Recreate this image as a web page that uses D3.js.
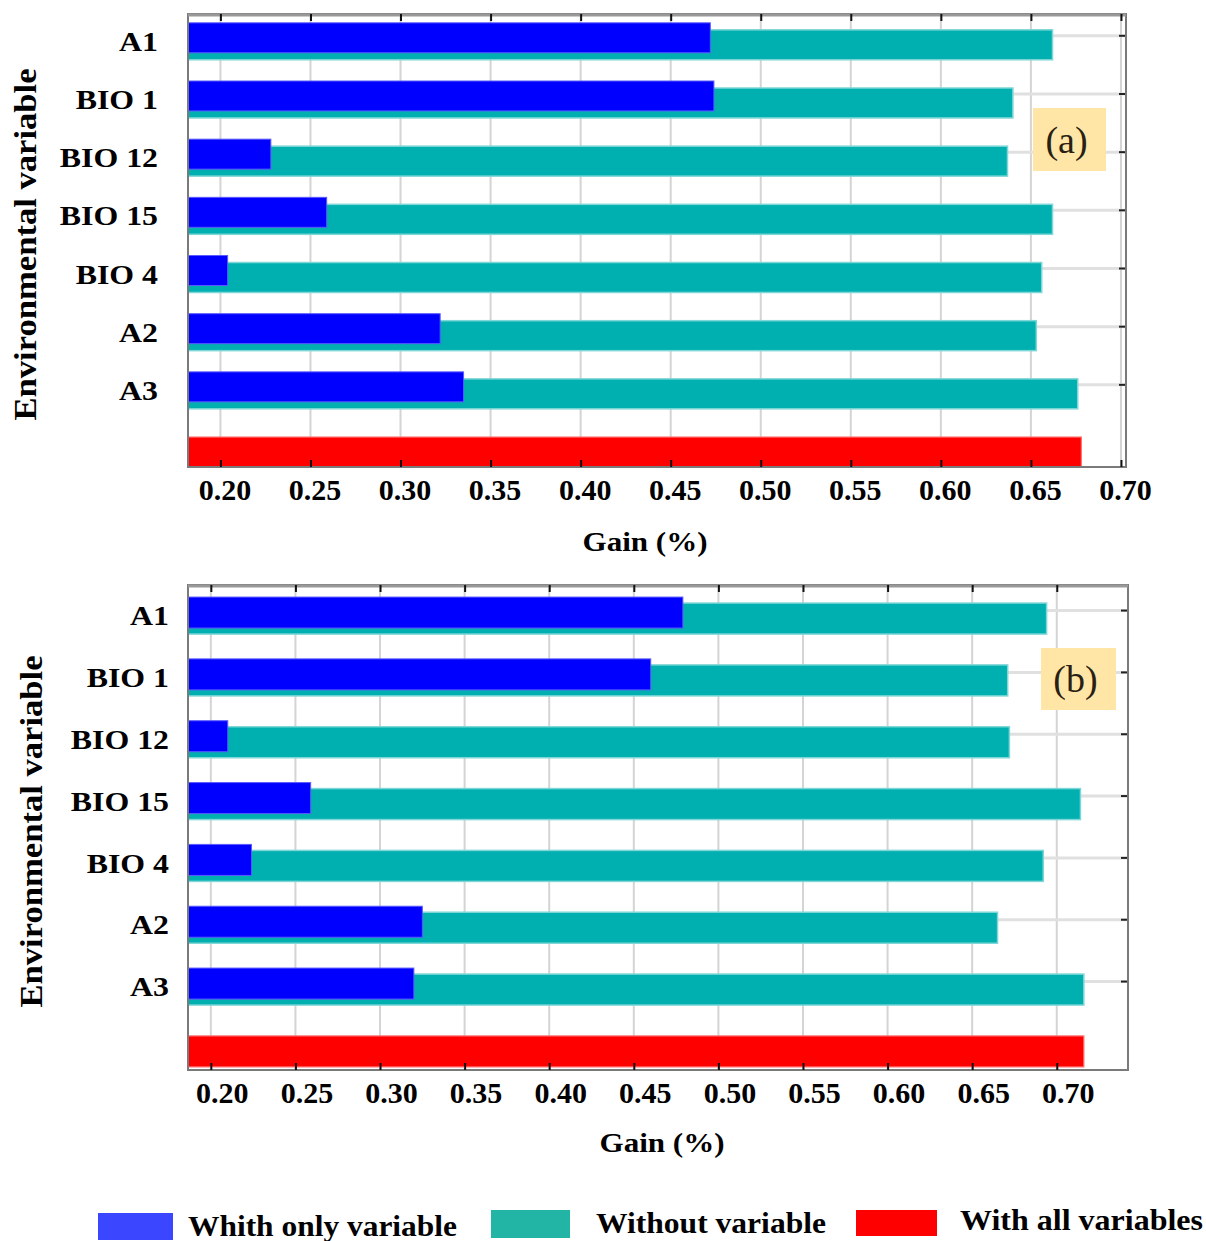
<!DOCTYPE html>
<html>
<head>
<meta charset="utf-8">
<script src="https://cdn.jsdelivr.net/npm/d3@7"></script>
<style>
  html, body { margin: 0; padding: 0; background: #fff; }
  svg { display: block; }
</style>
</head>
<body>
<svg id="chart" width="1206" height="1241"></svg>
<script>
// ---------------- DATA ----------------
const categories = ["A1", "BIO 1", "BIO 12", "BIO 15", "BIO 4", "A2", "A3"];
const allKey = "ALL";
const tickValues = [0.20, 0.25, 0.30, 0.35, 0.40, 0.45, 0.50, 0.55, 0.60, 0.65, 0.70];
const tickLabels = ["0.20", "0.25", "0.30", "0.35", "0.40", "0.45", "0.50", "0.55", "0.60", "0.65", "0.70"];

// panel (a)
const onlyVarA    = [0.472, 0.474, 0.228, 0.259, 0.204, 0.322, 0.335];
const withoutVarA = [0.662, 0.640, 0.637, 0.662, 0.656, 0.653, 0.676];
const allVarsA    = 0.678;

// panel (b)
const onlyVarB    = [0.479, 0.460, 0.210, 0.259, 0.224, 0.325, 0.320];
const withoutVarB = [0.694, 0.671, 0.672, 0.714, 0.692, 0.665, 0.716];
const allVarsB    = 0.716;

const legendLabels = ["Whith only variable", "Without variable", "With all variables"];
const legendColors = ["#3a46ff", "#22b5a5", "#ff0000"];

// ---------------- DRAW ----------------
const svg = d3.select("#chart");
const serif = "'Liberation Serif', 'Times New Roman', serif";

function drawPanel(cfg) {
  const { left, right, top, bottom, xDomain, only, without, all,
          align, pOuter, pInner, blueOff, labelDx, yLabelX, tag, tagBox,
          yTitleX, gainY } = cfg;
  const g = svg.append("g");

  const x = d3.scaleLinear().domain(xDomain).range([left, right]);
  const y = d3.scaleBand().domain([...categories, allKey])
    .range([top, bottom]).paddingInner(pInner).paddingOuter(pOuter).align(align);
  const bw = y.bandwidth();

  // vertical gridlines
  g.append("g").selectAll("line").data(tickValues).join("line")
    .attr("x1", d => x(d)).attr("x2", d => x(d))
    .attr("y1", top).attr("y2", bottom)
    .attr("stroke", "#d4d4d4").attr("stroke-width", 2);

  // horizontal gridlines
  g.append("g").selectAll("line").data(categories).join("line")
    .attr("x1", left).attr("x2", right)
    .attr("y1", d => y(d) + blueOff + bw / 2 - 2).attr("y2", d => y(d) + blueOff + bw / 2 - 2)
    .attr("stroke", "#e0e0e0").attr("stroke-width", 3);

  // right edge ticks
  g.append("g").selectAll("line").data(categories).join("line")
    .attr("x1", right - 7).attr("x2", right)
    .attr("y1", d => y(d) + blueOff + bw / 2 - 2).attr("y2", d => y(d) + blueOff + bw / 2 - 2)
    .attr("stroke", "#222").attr("stroke-width", 2);

  // teal (without variable) bars
  g.append("g").selectAll("rect").data(categories).join("rect")
    .attr("x", x(xDomain[0]))
    .attr("y", d => y(d))
    .attr("width", (d, i) => x(without[i]) - x(xDomain[0]))
    .attr("height", bw)
    .attr("fill", "#00b0b0")
    .attr("stroke", "#7ed6d6").attr("stroke-width", 1.5);

  // blue (with only variable) bars
  g.append("g").selectAll("rect").data(categories).join("rect")
    .attr("x", x(xDomain[0]))
    .attr("y", d => y(d) + blueOff)
    .attr("width", (d, i) => x(only[i]) - x(xDomain[0]))
    .attr("height", bw)
    .attr("fill", "#0000ff")
    .attr("stroke", "#5a5aff").attr("stroke-width", 1);

  // red (with all variables) bar
  g.append("rect")
    .attr("x", x(xDomain[0])).attr("y", y(allKey))
    .attr("width", x(all) - x(xDomain[0])).attr("height", bw)
    .attr("fill", "#ff0000").attr("stroke", "#ff7070").attr("stroke-width", 1.2);

  // frame
  g.append("rect").attr("x", left).attr("y", top)
    .attr("width", right - left).attr("height", bottom - top)
    .attr("fill", "none").attr("stroke", "#7a7a7a").attr("stroke-width", 2);
  g.append("line").attr("x1", left).attr("x2", right).attr("y1", top + 1).attr("y2", top + 1)
    .attr("stroke", "#999").attr("stroke-width", 3);

  // top axis (ticks only)
  const axTop = g.append("g").attr("transform", `translate(0,${top})`)
    .call(d3.axisTop(x).tickValues(tickValues).tickSize(-7).tickFormat(""));
  axTop.select(".domain").remove();
  axTop.selectAll(".tick line").attr("stroke", "#111").attr("stroke-width", 2);

  // bottom axis
  const axBot = g.append("g").attr("transform", `translate(0,${bottom})`)
    .call(d3.axisBottom(x).tickValues(tickValues).tickSize(-7).tickPadding(12)
      .tickFormat((d, i) => tickLabels[i]));
  axBot.select(".domain").remove();
  axBot.selectAll(".tick line").attr("stroke", "#111").attr("stroke-width", 2);
  axBot.selectAll(".tick text")
    .attr("dx", labelDx)
    .style("font-family", serif).style("font-weight", "bold")
    .style("font-size", "30px").attr("fill", "#000");

  // y-axis labels
  const axLeft = g.append("g").attr("transform", `translate(${yLabelX},0)`)
    .call(d3.axisLeft(y).tickValues(categories).tickSize(0).tickPadding(0));
  axLeft.select(".domain").remove();
  axLeft.selectAll(".tick text")
    .attr("y", d => (blueOff + 2) / 2)
    .attr("transform", "scale(1.18,1)")
    .style("font-family", serif).style("font-weight", "bold")
    .style("font-size", "27px").attr("fill", "#000");

  // axis titles
  g.append("text")
    .attr("transform", `translate(${yTitleX},${(top + bottom) / 2 + 4}) rotate(-90)`)
    .attr("text-anchor", "middle")
    .attr("textLength", 352).attr("lengthAdjust", "spacingAndGlyphs")
    .style("font-family", serif).style("font-weight", "bold").style("font-size", "31px")
    .text("Environmental variable");

  g.append("text")
    .attr("x", cfg.gainX).attr("y", gainY)
    .attr("text-anchor", "middle")
    .attr("textLength", 125).attr("lengthAdjust", "spacingAndGlyphs")
    .style("font-family", serif).style("font-weight", "bold").style("font-size", "28px")
    .text("Gain (%)");

  // panel tag
  g.append("rect").attr("x", tagBox[0]).attr("y", tagBox[1])
    .attr("width", tagBox[2]).attr("height", tagBox[3]).attr("fill", "#ffe6a6");
  g.append("text")
    .attr("x", tagBox[0] + tagBox[2] / 2 - 3).attr("y", tagBox[1] + tagBox[3] / 2 + 13)
    .attr("text-anchor", "middle")
    .style("font-family", serif).style("font-size", "38px").attr("fill", "#2a1f14")
    .text(tag);
}

drawPanel({
  left: 188, right: 1126, top: 14, bottom: 467,
  xDomain: [0.182, 0.7028],
  only: onlyVarA, without: withoutVarA, all: allVarsA,
  pInner: 0.485, pOuter: 0.136, align: 1.0, blueOff: -7,
  labelDx: 4, yLabelX: 158, yTitleX: 36, gainX: 645, gainY: 551,
  tag: "(a)", tagBox: [1033, 108, 73, 63]
});

drawPanel({
  left: 188, right: 1128, top: 585, bottom: 1070,
  xDomain: [0.1865, 0.7421],
  only: onlyVarB, without: withoutVarB, all: allVarsB,
  pInner: 0.4986, pOuter: 0.171, align: 0.854, blueOff: -6,
  labelDx: 11, yLabelX: 169, yTitleX: 42, gainX: 662, gainY: 1152,
  tag: "(b)", tagBox: [1041, 648, 75, 62]
});

// legend
const legend = svg.append("g");
const legendRects = [[98, 1213, 75, 27], [491, 1210, 79, 28], [856, 1210, 81, 26]];
const legendTextX = [188, 596, 960];
const legendTextW = [269, 230, 243];
const legendTextY = [1236, 1233, 1230];
legend.selectAll("rect").data(legendLabels).join("rect")
  .attr("x", (d, i) => legendRects[i][0]).attr("y", (d, i) => legendRects[i][1])
  .attr("width", (d, i) => legendRects[i][2]).attr("height", (d, i) => legendRects[i][3])
  .attr("fill", (d, i) => legendColors[i]);
legend.selectAll("text").data(legendLabels).join("text")
  .attr("x", (d, i) => legendTextX[i]).attr("y", (d, i) => legendTextY[i])
  .attr("textLength", (d, i) => legendTextW[i]).attr("lengthAdjust", "spacingAndGlyphs")
  .style("font-family", serif).style("font-weight", "bold").style("font-size", "29px")
  .text(d => d);
</script>
</body>
</html>
